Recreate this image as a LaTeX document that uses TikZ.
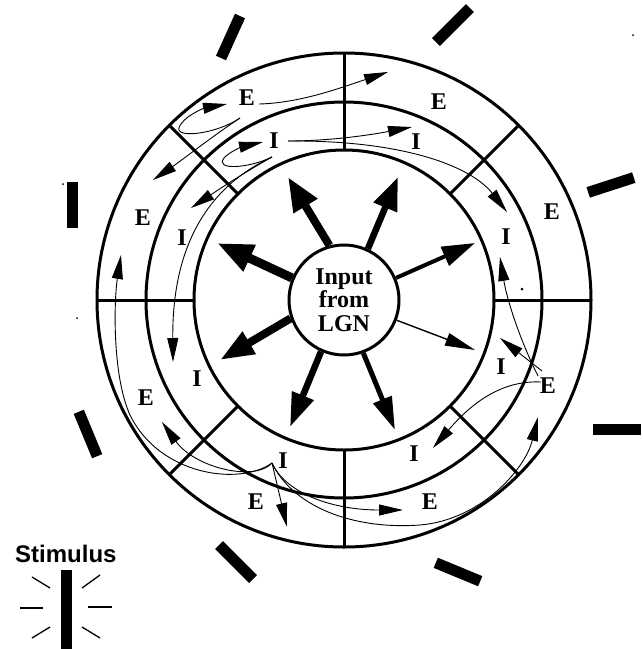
\documentclass[tikz,border=0pt]{standalone}
\usepackage{fontspec}
\setmainfont{Liberation Serif}
\newfontfamily\stimfont{Liberation Sans}
\usetikzlibrary{arrows.meta,calc}

\begin{document}
\begin{tikzpicture}[x=1pt,y=-1pt,
  ring/.style={line width=3pt},
  divider/.style={line width=3pt},
  lbl/.style={font=\fontsize{24}{24}\selectfont\bfseries, inner sep=0pt},
  conn/.style={line width=0.9pt, -{Triangle[length=24pt,width=11pt]}},
  bigarr/.style n args={3}{line width=#1pt, -{Triangle[length=#2pt,width=#3pt]}},
  bar/.style={line width=11pt},
  ray/.style={line width=1.3pt},
  dot/.style={circle, fill=black, inner sep=0pt, minimum size=#1pt}
]
\useasboundingbox (0,0) rectangle (643,649);

% ---- rings ----
\coordinate (C) at (344,300);
\draw[ring] (C) circle[radius=247pt];
\draw[ring] (C) circle[radius=198pt];
\draw[ring] (C) circle[radius=150pt];

% ---- dividers every 45 degrees ----
\foreach \a/\n in {0/d0,45/d45,90/d90,135/d135,180/d180,225/d225,270/d270,315/d315}{
  \coordinate (\n i) at ($(C)+({150*cos(\a)},{-150*sin(\a)})$);
  \coordinate (\n o) at ($(C)+({247*cos(\a)},{-247*sin(\a)})$);
  \draw[divider] (\n i) -- (\n o);
}

% ---- input node ----
\node[circle, draw, line width=3pt, minimum size=110pt, inner sep=0pt,
      align=center, font=\fontsize{24}{23.5}\selectfont\bfseries] (lgn) at (C) {Input\\from\\LGN};

% ---- labels ----
\node[lbl] (Etl) at (247,98) {E};
\node[lbl] (Itl) at (274,141) {I};
\node[lbl] (Etr) at (439,102) {E};
\node[lbl] (Itr) at (416,142) {I};
\node[lbl] (Er1) at (552,212) {E};
\node[lbl] (Ir1) at (506,237) {I};
\node[lbl] (Ir2) at (501,367) {I};
\node[lbl] (Er2) at (548,386) {E};
\node[lbl] (Ibr) at (414,454) {I};
\node[lbl] (Ebr) at (430,502) {E};
\node[lbl] (Ibl) at (283,461) {I};
\node[lbl] (Ebl) at (256,502) {E};
\node[lbl] (El2) at (146,398) {E};
\node[lbl] (Il2) at (197,379) {I};
\node[lbl] (El1) at (143,218) {E};
\node[lbl] (Il1) at (182,238) {I};

% ---- thick input arrows ----
\coordinate (t1) at (288,177);
\coordinate (t2) at (398,177);
\coordinate (t3) at (475,243);
\coordinate (t4) at (475,350);
\coordinate (t5) at (395,430);
\coordinate (t6) at (290,427);
\coordinate (t7) at (220,360);
\coordinate (t8) at (217,243);
\draw[bigarr={8}{34}{26}] (lgn.105.7) -- (t1);
\draw[bigarr={6.5}{33}{24}] (lgn.65) -- (t2);
\draw[bigarr={4}{33}{20}] (lgn.23) -- (t3);
\draw[bigarr={1.4}{30}{13}] (lgn.-21.4) -- (t4);
\draw[bigarr={5}{33}{19}] (lgn.-70) -- (t5);
\draw[bigarr={6.5}{34}{22}] (lgn.246.4) -- (t6);
\draw[bigarr={8}{34}{24}] (lgn.199.3) -- (t7);
\draw[bigarr={9}{36}{27}] (lgn.157.8) -- (t8);

% ---- lateral connections: top-left E ----
\coordinate (e1a) at (259,104);
\coordinate (e1b) at (240,118);
\coordinate (c1t) at (388,72);
\coordinate (c2t) at (227,104);
\coordinate (c3t) at (153,180);
\draw[conn] (e1a) .. controls (300,103) and (340,88) .. (c1t);
\draw[conn] (e1b) .. controls (215,135) and (168,140) .. (181,124)
           .. controls (188,114) and (205,108) .. (c2t);
\draw[conn] (e1b) .. controls (210,138) and (185,158) .. (c3t);

% ---- top-left I ----
\coordinate (i1a) at (288,141);
\coordinate (i1b) at (272,157);
\coordinate (c4t) at (412,127);
\coordinate (c5t) at (507,212);
\coordinate (c6t) at (263,142);
\coordinate (c7t) at (191,208);
\coordinate (c8t) at (173,362);
\draw[conn] (i1a) .. controls (330,141) and (370,135) .. (c4t);
\draw[conn] (i1a) .. controls (400,140) and (470,165) .. (c5t);
\draw[conn] (i1b) .. controls (250,168) and (214,171) .. (224,158)
           .. controls (230,151) and (245,146) .. (c6t);
\draw[conn] (i1b) .. controls (240,175) and (215,192) .. (c7t);
\draw[conn] (i1b) .. controls (205,188) and (172,250) .. (c8t);

% ---- bottom I ----
\coordinate (S) at (272,463);
\coordinate (c9t) at (121,255);
\coordinate (c10t) at (162,422);
\coordinate (c11t) at (287,527);
\coordinate (c12t) at (403,510);
\coordinate (c13t) at (538,417);
\draw[conn] (S) .. controls (240,486) and (160,476) .. (130,415)
           .. controls (112,375) and (114,300) .. (c9t);
\draw[conn] (S) .. controls (255,482) and (195,468) .. (c10t);
\draw[conn] (S) -- (c11t);
\draw[conn] (S) .. controls (285,492) and (330,510) .. (c12t);
\draw[conn] (S) .. controls (292,505) and (350,530) .. (420,525)
           .. controls (480,520) and (525,470) .. (c13t);

% ---- right E ----
\coordinate (r1) at (538,376);
\coordinate (r2) at (542,371);
\coordinate (r3) at (541,382);
\coordinate (c14t) at (500,257);
\coordinate (c15t) at (500,338);
\coordinate (c16t) at (433,448);
\draw[conn] (r1) .. controls (520,340) and (507,300) .. (c14t);
\draw[conn] (r2) -- (c15t);
\draw[conn] (r3) .. controls (500,380) and (470,405) .. (c16t);

% ---- orientation bars ----
\draw[bar] (221,58) -- (240,16);
\draw[bar] (436,42) -- (470,8);
\draw[bar] (588.2,192.4) -- (633.8,177.6);
\draw[bar] (593,429) -- (641,429);
\draw[bar] (435.8,562.8) -- (480.2,581.2);
\draw[bar] (219,545) -- (253,579);
\draw[bar] (78.8,411.8) -- (97.2,456.2);
\draw[bar] (72,182) -- (72,228);

% ---- stimulus ----
\node[anchor=base west, inner sep=0pt, font=\stimfont\fontsize{24}{24}\selectfont\bfseries] (stim) at (15,562) {Stimulus};
\draw[bar] (66,570) -- (66,649);
\draw[ray] (32,577) -- (50,588);
\draw[ray] (82,588) -- (100,575);
\draw[ray] (20,608) -- (43,608);
\draw[ray] (88,607) -- (112,607);
\draw[ray] (32,638) -- (50,627);
\draw[ray] (82,627) -- (100,638);

% ---- specks ----
\node[dot=3] (sp1) at (522,289) {};
\node[dot=2] (sp2) at (633,35) {};
\node[dot=2] (sp3) at (77,318) {};
\node[dot=2] (sp4) at (63,184) {};
\end{tikzpicture}
\end{document}
